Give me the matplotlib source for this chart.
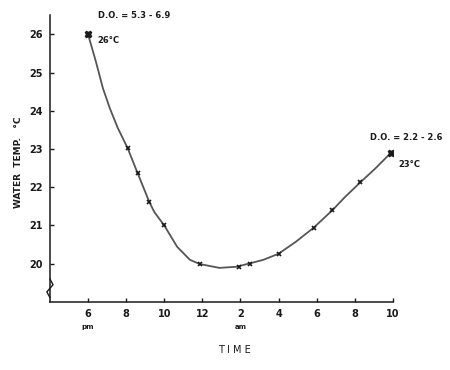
import matplotlib
matplotlib.use("Agg")
import matplotlib.pyplot as plt

# hours after midnight of day 1 (18 = 6 pm, 34 = 10 am next day)
curve_hour = [18, 18.42, 18.78, 19.14, 19.56, 20.08, 20.6, 21.22, 21.48, 22.0,
              22.68, 23.35, 23.87, 24.9, 25.8, 27.2, 28.0, 28.9, 29.84, 30.83,
              31.5, 32.3, 33.1, 33.9]
curve_temp = [26.0, 25.27, 24.59, 24.07, 23.55, 23.02, 22.37, 21.61, 21.35, 21.0,
              20.44, 20.1, 19.99, 19.89, 19.92, 20.1, 20.26, 20.57, 20.94, 21.4,
              21.75, 22.13, 22.5, 22.9]

obs_hour = [20.08, 20.6, 21.22, 22, 23.87, 25.9, 26.5, 28, 29.84, 30.83, 32.3]
obs_temp = [23.02, 22.37, 21.61, 21.0, 19.99, 19.92, 19.98, 20.26, 20.94, 21.4, 22.13]

end_hour = [18, 33.9]
end_temp = [26.0, 22.9]

tick_hours = [18, 20, 22, 24, 26, 28, 30, 32, 34]
tick_labels = ["6", "8", "10", "12", "2", "4", "6", "8", "10"]
temp_ticks = [20, 21, 22, 23, 24, 25, 26]

ink = "#1a1a1a"
plt.rcParams["font.family"] = "DejaVu Sans"
plt.rcParams["font.weight"] = "bold"

fig = plt.figure(figsize=(4.5, 3.7), dpi=100)
ax = fig.add_axes([0.111, 0.184, 0.762, 0.775])

ax.plot(curve_hour, curve_temp, color="#555555", lw=1.3, zorder=2)
ax.plot(obs_hour, obs_temp, ls="none", marker="x", ms=3, mew=1.2, color=ink, zorder=3)
ax.plot(end_hour, end_temp, ls="none", marker="X", ms=5, color=ink, zorder=3)

ax.set_xlim(16, 34)
ax.set_ylim(19.0, 26.5)
ax.set_xticks(tick_hours)
ax.set_xticklabels(tick_labels)
ax.set_yticks(temp_ticks)
for s in ("top", "right"):
    ax.spines[s].set_visible(False)
for s in ("left", "bottom"):
    ax.spines[s].set_color(ink)
    ax.spines[s].set_linewidth(1.1)
ax.tick_params(direction="in", length=3, width=1, color=ink, labelsize=7,
               labelcolor=ink, pad=5)

# axis break on the temperature axis
ax.plot([0, 0.009, -0.009, 0], [0.08, 0.06, 0.035, 0.015], transform=ax.transAxes,
        color=ink, lw=1, clip_on=False)

ax.text(18.5, 26.5, "D.O. = 5.3 - 6.9", fontsize=6, color=ink, ha="left", va="center",
        clip_on=False)
ax.text(18.5, 25.85, "26°C", fontsize=6, color=ink, ha="left", va="center")
ax.text(32.8, 23.31, "D.O. = 2.2 - 2.6", fontsize=6, color=ink, ha="left", va="center",
        clip_on=False)
ax.text(34.3, 22.6, "23°C", fontsize=6, color=ink, ha="left", va="center", clip_on=False)

ax.text(18, 18.35, "pm", fontsize=5, color=ink, ha="center", va="center")
ax.text(26, 18.35, "am", fontsize=5, color=ink, ha="center", va="center")

fig.text(0.52, 0.054, "T I M E", fontsize=7, color=ink, ha="center", va="center",
         fontweight="normal")
fig.text(0.042, 0.562, "WATER  TEMP.   °C", fontsize=6.5, color=ink, rotation=90,
         ha="center", va="center")

fig.savefig("out.png", dpi=100)
